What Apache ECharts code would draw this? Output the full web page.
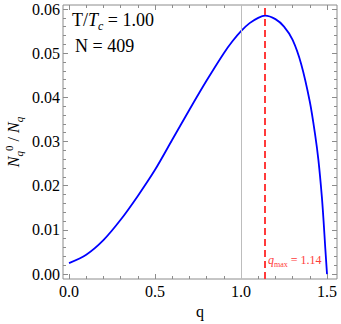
<!DOCTYPE html>
<html>
<head>
<meta charset="utf-8">
<script src="https://cdn.jsdelivr.net/npm/echarts@6/dist/echarts.min.js"></script>
<style>
  html, body { margin: 0; padding: 0; background: #fff; }
  #main { width: 341px; height: 324px; }
</style>
</head>
<body>
<div id="main"></div>
<script>
var qVals = [0, 0.1, 0.2, 0.3, 0.4, 0.5, 0.6, 0.7, 0.8, 0.9, 0.95, 1.0, 1.05, 1.1, 1.14,
             1.2, 1.25, 1.3, 1.35, 1.4, 1.43, 1.45, 1.47, 1.48, 1.49, 1.5];
var ratioVals = [0.0025, 0.0044, 0.0077, 0.0123, 0.0177, 0.0236, 0.0304, 0.0372, 0.0438, 0.0500,
                 0.0527, 0.0550, 0.0568, 0.0580, 0.0585, 0.0577, 0.0560, 0.0530, 0.0475, 0.0390,
                 0.0318, 0.0258, 0.0175, 0.0120, 0.0058, 0.0];
var qRef = 1.0;
var qMax = 1.14;

var serif = 'Liberation Serif';
var frameColor = '#8c8c8c';
var red = '#ff3b3b';

var curve = [];
for (var i = 0; i < qVals.length; i++) curve.push([qVals[i], ratioVals[i]]);

// plot frame: q from -0.035 to 1.558, ratio from -0.0011 to 0.0609
// tick grid: q 0..1.5, ratio 0..0.06, axes pushed out to the frame with offset
function tickAxis(pos, min, max, interval, offset, labels, fmt) {
    return {
        type: 'value', gridIndex: 1, position: pos, offset: offset,
        min: min, max: max, interval: interval,
        axisLine: { show: false, onZero: false },
        axisTick: { show: true, inside: true, length: 5, lineStyle: { color: frameColor } },
        minorTick: { show: true, splitNumber: 5, length: 3, lineStyle: { color: frameColor } },
        axisLabel: { show: labels, margin: pos === 'bottom' ? 4 : 3, formatter: fmt,
                     fontFamily: serif, fontSize: 16, color: '#000' },
        splitLine: { show: false }
    };
}
function fmt1(v) { return v.toFixed(1); }
function fmt2(v) { return v.toFixed(2); }

var dom = document.getElementById('main');
var myChart = echarts.init(dom, null, { renderer: 'svg' });
var option = {
    animation: false,
    grid: [
        { left: 63, right: 4, top: 5, bottom: 45, outerBoundsMode: 'none', containLabel: false,
          show: true, borderColor: frameColor, borderWidth: 1, backgroundColor: 'transparent' },
        { left: 69, right: 14, top: 9, bottom: 50, outerBoundsMode: 'none', containLabel: false }
    ],
    xAxis: [
        {
            type: 'value', gridIndex: 0, min: -0.035, max: 1.558,
            axisLine: { show: false, onZero: false }, axisTick: { show: false },
            axisLabel: { show: false }, splitLine: { show: false },
            name: 'q', nameLocation: 'middle', nameGap: 24,
            nameTextStyle: { fontFamily: serif, fontSize: 16, color: '#000' }
        },
        tickAxis('bottom', 0, 1.5, 0.5, 5, true, fmt1),
        tickAxis('top', 0, 1.5, 0.5, 4, false, fmt1)
    ],
    yAxis: [
        {
            type: 'value', gridIndex: 0, min: -0.0011, max: 0.0609,
            axisLine: { show: false, onZero: false }, axisTick: { show: false },
            axisLabel: { show: false }, splitLine: { show: false },
            name: '{i|N}{sub|q}{sup|0}{n| / }{i|N}{sub|q}',
            nameLocation: 'middle', nameGap: 39,
            nameTextStyle: {
                fontFamily: serif, fontSize: 16, color: '#000',
                rich: {
                    i: { fontFamily: serif, fontStyle: 'italic', fontSize: 16, verticalAlign: 'top', padding: [2, 0, 0, 0] },
                    n: { fontFamily: serif, fontSize: 16, verticalAlign: 'top', padding: [2, 0, 0, 0] },
                    sub: { fontFamily: serif, fontStyle: 'italic', fontSize: 11, verticalAlign: 'top', padding: [10, 0, 0, 0] },
                    sup: { fontFamily: serif, fontSize: 11, verticalAlign: 'top', padding: [0, 0, 0, 0] }
                }
            }
        },
        tickAxis('left', 0, 0.06, 0.01, 6, true, fmt2),
        tickAxis('right', 0, 0.06, 0.01, 10, false, fmt2)
    ],
    graphic: [
        {
            type: 'text', left: 72, top: 11,
            style: {
                text: '{n|T/}{i|T}{s|c}{n| = 1.00}',
                rich: {
                    n: { fontFamily: serif, fontSize: 18, verticalAlign: 'top', fill: '#000' },
                    i: { fontFamily: serif, fontStyle: 'italic', fontSize: 18, verticalAlign: 'top', fill: '#000' },
                    s: { fontFamily: serif, fontStyle: 'italic', fontSize: 12, verticalAlign: 'top', padding: [9, 0, 0, 0], fill: '#000' }
                }
            }
        },
        {
            type: 'text', left: 75, top: 37,
            style: { text: 'N = 409', fontFamily: serif, fontSize: 18, fill: '#000' }
        },
        {
            type: 'text', left: 268, top: 254,
            style: {
                text: '{i|q}{s|max}{n| = 1.14}',
                rich: {
                    i: { fontFamily: serif, fontStyle: 'italic', fontSize: 12, verticalAlign: 'top', fill: red },
                    s: { fontFamily: serif, fontSize: 8, verticalAlign: 'top', padding: [6, 0, 0, 0], fill: red },
                    n: { fontFamily: serif, fontSize: 12, verticalAlign: 'top', fill: red }
                }
            }
        }
    ],
    series: [{
        type: 'line',
        xAxisIndex: 0,
        yAxisIndex: 0,
        data: curve,
        showSymbol: false,
        smooth: 0.3,
        lineStyle: { color: '#0000ff', width: 1.8 },
        z: 3,
        markLine: {
            silent: true,
            symbol: ['none', 'none'],
            label: { show: false },
            data: [
                { xAxis: qRef, lineStyle: { color: '#bdbdbd', width: 1, type: 'solid' } },
                { xAxis: qMax, lineStyle: { color: red, width: 2, type: [7, 4] } }
            ]
        }
    }]
};
myChart.setOption(option);
window.onresize = myChart.resize;
</script>
</body>
</html>
